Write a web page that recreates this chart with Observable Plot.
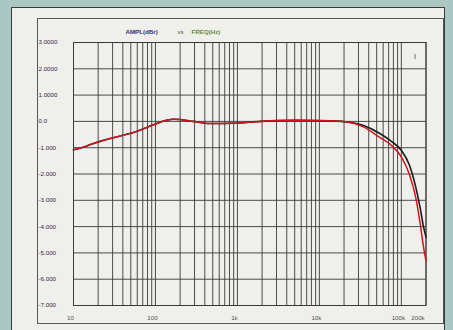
<!DOCTYPE html>
<html>
<head>
<meta charset="utf-8">
<script src="https://cdn.jsdelivr.net/npm/d3@7"></script>
<script src="https://cdn.jsdelivr.net/npm/@observablehq/plot@0.6"></script>
<style>
  html, body { margin: 0; padding: 0; }
  body { width: 453px; height: 330px; background: #a9c7c3; position: relative; overflow: hidden; }
  #panel { position: absolute; left: 11px; top: 7px; width: 434px; height: 340px; background: #efefec; border: 1px solid #3a3a3a; box-sizing: border-box; }
  #frame { position: absolute; left: 37px; top: 18px; width: 407px; height: 306px; border: 1px solid #555; box-sizing: border-box; }
  #chart { position: absolute; left: 0; top: 0; }
</style>
</head>
<body>
<div id="panel"></div>
<div id="frame"></div>
<div id="chart"></div>
<script>
// ---- data ----
const freqs = [10, 14, 17.5, 22, 30, 40, 60, 80, 114, 140, 165, 200, 290, 460, 880, 1900, 5300, 13400, 23400, 34000, 54000, 75000, 100000, 125000, 150000, 170000, 185000, 200000];
const blackDb = [-1.08, -0.95, -0.84, -0.74, -0.63, -0.53, -0.37, -0.22, -0.03, 0.05, 0.08, 0.07, 0.0, -0.08, -0.07, 0.0, 0.04, 0.02, -0.03, -0.15, -0.45, -0.75, -1.1, -1.65, -2.5, -3.3, -3.95, -4.4];
const redDb   = [-1.08, -0.95, -0.84, -0.74, -0.63, -0.53, -0.37, -0.22, -0.03, 0.05, 0.08, 0.07, 0.0, -0.08, -0.07, 0.0, 0.04, 0.02, -0.04, -0.2, -0.6, -0.9, -1.35, -2.0, -2.9, -3.9, -4.7, -5.3];

const yTicks = [3, 2, 1, 0, -1, -2, -3, -4, -5, -6, -7];
const yLabels = ["3.0000", "2.0000", "1.0000", "0.0", "-1.000", "-2.000", "-3.000", "-4.000", "-5.000", "-6.000", "-7.000"];
const xTicks = [10, 100, 1000, 10000, 100000];
const xLabels = ["10", "100", "1k", "10k", "100k"];
const xTicksEnd = [200000];
const xLabelsEnd = ["200k"];
const titleParts = ["AMPL(dBr)", "vs", "FREQ(Hz)"];

// grid positions: 1..9 times each decade, up to 200k
const gridFreqs = [];
for (const d of [10, 100, 1000, 10000]) for (let m = 1; m <= 9; m++) gridFreqs.push(m * d);
gridFreqs.push(100000, 200000);

const black = freqs.map((f, i) => ({f, db: blackDb[i]}));
const red = freqs.map((f, i) => ({f, db: redDb[i]}));
const xLab = xTicks.map((f, i) => ({f, t: xLabels[i]}));
const xLabEnd = xTicksEnd.map((f, i) => ({f, t: xLabelsEnd[i]}));

const font = "'Liberation Sans', 'DejaVu Sans', sans-serif";

const chart = Plot.plot({
  width: 453,
  height: 330,
  marginLeft: 73,
  marginRight: 27.5,
  marginTop: 42,
  marginBottom: 25,
  style: {background: "transparent", fontFamily: font, overflow: "visible"},
  x: {type: "log", domain: [10, 200000], axis: null},
  y: {domain: [-7, 3]},
  marks: [
    Plot.ruleX(gridFreqs, {stroke: "#3a3a3a", strokeWidth: 1, strokeOpacity: 0.9}),
    Plot.ruleY(yTicks, {stroke: "#3a3a3a", strokeWidth: 1, strokeOpacity: 0.9}),
    Plot.frame({stroke: "#3a3a3a", strokeWidth: 1}),
    Plot.line(black, {x: "f", y: "db", stroke: "#1c1c1c", strokeWidth: 1.6, curve: "monotone-x"}),
    Plot.line(red, {x: "f", y: "db", stroke: "#d3141c", strokeWidth: 1.5, curve: "monotone-x"}),
    Plot.axisY(yTicks, {tickSize: 0, tickPadding: 35, textAnchor: "start", fontSize: 6.2, fill: "#3a2248",
      tickFormat: (d) => yLabels[yTicks.indexOf(d)], label: null}),
    Plot.text(xLab, {x: "f", text: "t", frameAnchor: "bottom", dy: 14, dx: -3, fontSize: 6.2, fill: "#555"}),
    Plot.text(xLabEnd, {x: "f", text: "t", frameAnchor: "bottom", dy: 14, dx: -8, fontSize: 6.2, fill: "#555"}),
    Plot.text([titleParts[0]], {frameAnchor: "top-left", dx: 52, dy: -13, textAnchor: "start", fontSize: 6.2, fill: "#3b2a78", fontWeight: "bold"}),
    Plot.text([titleParts[1]], {frameAnchor: "top-left", dx: 104, dy: -13, textAnchor: "start", fontSize: 6.2, fill: "#555"}),
    Plot.text([titleParts[2]], {frameAnchor: "top-left", dx: 118, dy: -13, textAnchor: "start", fontSize: 6.2, fill: "#6b8a3c", fontWeight: "bold"}),
    Plot.text(["I"], {frameAnchor: "top-right", dx: -10, dy: 12, fontSize: 7, fill: "#333"})
  ]
});
document.getElementById("chart").appendChild(chart);
</script>
</body>
</html>
